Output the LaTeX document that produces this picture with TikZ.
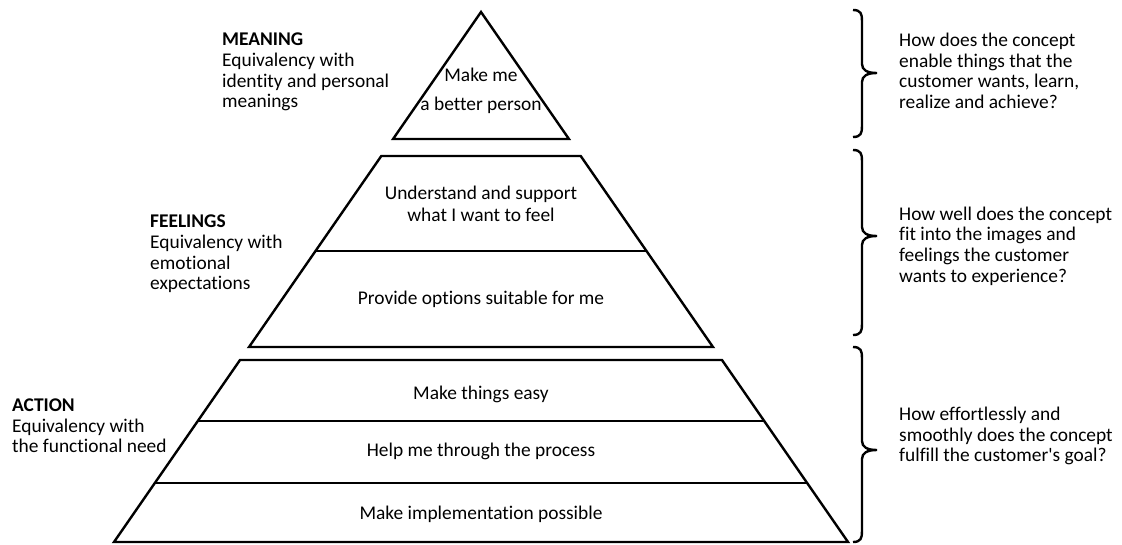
\documentclass[tikz,border=0pt]{standalone}
\usepackage{fontspec}
\setmainfont{Carlito}[Ligatures={NoCommon}]
\usepackage{tikz}
\usetikzlibrary{calc,positioning}

\begin{document}
\begin{tikzpicture}[x=1pt, y=-1pt,
    level/.style={font=\fontsize{19.4}{22}\selectfont, align=center, inner sep=0pt},
    side/.style={font=\fontsize{19.4}{20.7}\selectfont, align=left, inner sep=0pt},
    question/.style={font=\fontsize{19.4}{20.6}\selectfont, align=left, inner sep=0pt, anchor=west},
    edge/.style={line width=2.4pt, line join=miter}]
    \useasboundingbox (0,0) rectangle (1122,544);
    \coordinate (apex) at (481,12);
    \coordinate (bl) at (114,542);
    \coordinate (br) at (848,542);
    % pyramid levels: name/y
    \foreach \n/\y in {ta/139, ma/156, mb/251, mc/347, ba/360, bb/421, bc/483} {
        \coordinate (L\n) at ($(apex)!{(\y-12)/530}!(bl)$);
        \coordinate (R\n) at ($(apex)!{(\y-12)/530}!(br)$);
    }
    \draw[edge] (apex) -- (Lta) -- (Rta) -- cycle;
    \draw[edge] (Lma) -- (Rma) -- (Rmc) -- (Lmc) -- cycle;
    \draw[edge] (Lmb) -- (Rmb);
    \draw[edge] (Lba) -- (Rba) -- (br) -- (bl) -- cycle;
    \draw[edge] (Lbb) -- (Rbb);
    \draw[edge] (Lbc) -- (Rbc);

    \node[level, font=\fontsize{19.4}{29}\selectfont] (better) at (481,91) {Make me\\a better person};
    \node[level] (feel) at (481,204) {Understand and support\\what I want to feel};
    \node[level] (options) at (481,299) {Provide options suitable for me};
    \node[level] (easy) at (481,394) {Make things easy};
    \node[level] (process) at (481,451) {Help me through the process};
    \node[level] (possible) at (481,514) {Make implementation possible};

    \node[side, anchor=west] (meaning) at (222,72) {\textbf{MEANING}\\Equivalency with\\identity and personal\\meanings};
    \node[side, anchor=west] (feelings) at (150,254) {\textbf{FEELINGS}\\Equivalency with\\emotional\\expectations};
    \node[side, anchor=west] (action) at (12,426) {\textbf{ACTION}\\Equivalency with\\the functional need};

    % braces: top/tip/bottom
    \foreach \t/\m/\b in {10/73/137, 150/236/335, 347/450/542} {
        \draw[line width=2.4pt] (853,\t) .. controls (861,\t) and (862,\t+4) .. (862,\t+11)
            -- (862,\m-9) .. controls (862,\m-3) and (867,\m) .. (877,\m)
            .. controls (867,\m) and (862,\m+3) .. (862,\m+9)
            -- (862,\b-11) .. controls (862,\b-4) and (861,\b) .. (853,\b);
    }
    \node[question] (enable) at (899,71) {How does the concept\\enable things that the\\customer wants, learn,\\realize and achieve?};
    \node[question] (images) at (899,246) {How well does the concept\\fit into the images and\\feelings the customer\\wants to experience?};
    \node[question] (goal) at (899,436) {How effortlessly and\\smoothly does the concept\\fulfill the customer\textquotesingle s goal?};
\end{tikzpicture}
\end{document}
